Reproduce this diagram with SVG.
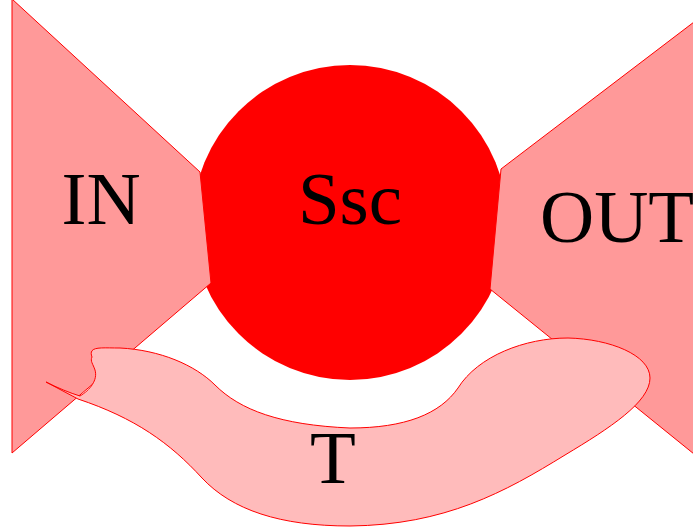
<svg xmlns="http://www.w3.org/2000/svg" width="693" height="529" viewBox="0 0 693 529">
<style>
.side{fill:#ff9999;stroke:#ff0000;stroke-width:1}
.blob{fill:#ffbbbb;stroke:#ff0000;stroke-width:1}
.lbl{font-family:"Liberation Serif","Times New Roman",serif;font-size:75px;fill:#000}
</style>
<rect width="693" height="529" fill="#fff"/>
<g id="Ssc">
<circle cx="350" cy="222.5" r="157.5" fill="#ff0000"/>
<text class="lbl" x="350" y="224" text-anchor="middle">Ssc</text>
</g>
<g id="IN">
<polygon class="side" points="12,-1 200,172 211,283 12,453"/>
<text class="lbl" x="101" y="224" text-anchor="middle">IN</text>
</g>
<g id="OUT">
<polygon class="side" points="694,22 501,169 490,289 694,454"/>
<text class="lbl" x="540" y="242">OUT</text>
</g>
<g id="T">
<path class="blob" d="M92,357 C88,346 100,348 120,348 C160,350 195,365 215,385 C240,410 280,425 350,428 C405,428 440,414 458,388 C478,356 525,338 568,338 C610,339 650,355 650,378 C650,402 610,428 565,455 C505,492 445,525 350,526 C280,526 232,510 202,478 C170,443 135,418 78,399 L46,382 C58,388 70,393 80,396 C90,390 98,380 95,370 C93,364 90,361 92,357 Z"/>
<text class="lbl" x="333" y="483" text-anchor="middle">T</text>
</g>
<g id="connectors"/>
</svg>
